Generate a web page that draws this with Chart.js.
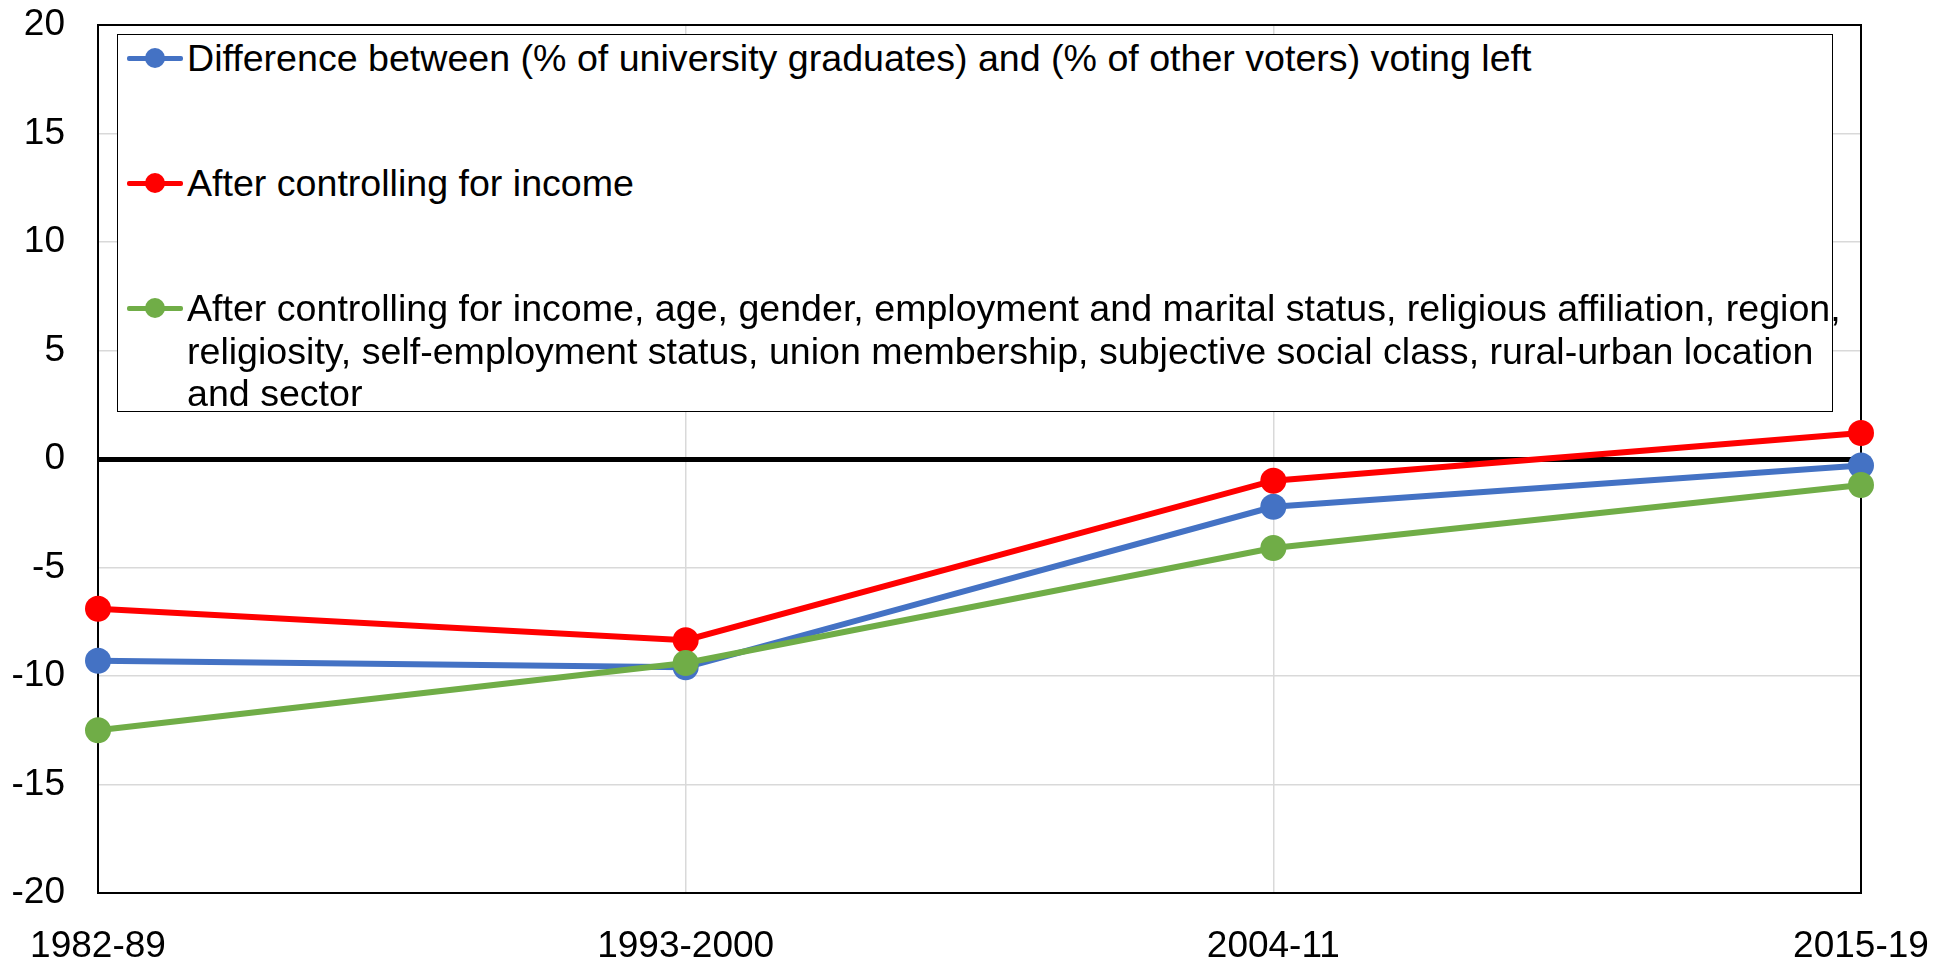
<!DOCTYPE html>
<html>
<head>
<meta charset="utf-8">
<script src="https://cdn.jsdelivr.net/npm/chart.js@4/dist/chart.umd.min.js"></script>
<style>
	body { margin: 0; background: #fff; font-family: 'Liberation Sans', Arial, sans-serif; }
	#wrap { position: relative; width: 1951px; height: 966px; }
	#legend {
		position: absolute; left: 117px; top: 34px; width: 1716px; height: 378px;
		box-sizing: border-box; border: 1.5px solid #000; background: #fff;
	}
	.item { position: absolute; left: 0; width: 100%; }
	.swatch { position: absolute; left: 9px; width: 56px; height: 5px; border-radius: 2px; }
	.dot { position: absolute; left: 27px; width: 20px; height: 20px; border-radius: 50%; }
	.label { position: absolute; left: 69px; font-size: 37.6px; line-height: 42.5px; color: #000; white-space: nowrap; }
</style>
</head>
<body>
<div id="wrap">
	<canvas id="chart" width="1951" height="966"></canvas>
	<div id="legend"></div>
</div>
<script>
const $ = (id) => document.getElementById(id);

const periods = ['1982-89', '1993-2000', '2004-11', '2015-19'];
const graduateGap = [-9.3, -9.6, -2.2, -0.3];
const afterIncome = [-6.9, -8.35, -1.0, 1.2];
const afterAllControls = [-12.5, -9.4, -4.1, -1.2];

const graduateGapLabel = ['Difference between (% of university graduates) and (% of other voters) voting left'];
const afterIncomeLabel = ['After controlling for income'];
const afterAllControlsLabel = [
	'After controlling for income, age, gender, employment and marital status, religious affiliation, region,',
	'religiosity, self-employment status, union membership, subjective social class, rural-urban location',
	'and sector',
];

const yTicks = { min: -20, max: 20, step: 5 };
const legendTops = [2, 127, 252]; // px inside legend box, one per series

const series = [
	{ label: graduateGapLabel, data: graduateGap, color: '#4472C4', order: 2 },
	{ label: afterIncomeLabel, data: afterIncome, color: '#FF0000', order: 1 },
	{ label: afterAllControlsLabel, data: afterAllControls, color: '#70AD47', order: 0 },
];

const font = { family: "'Liberation Sans', Arial, sans-serif", size: 37 };

// black frame round the plot area, drawn over the grid but under the lines
const plotFrame = {
	id: 'plotFrame',
	beforeDatasetsDraw(chart) {
		const { ctx, chartArea: a } = chart;
		ctx.save();
		ctx.strokeStyle = '#000';
		ctx.lineWidth = 2;
		ctx.strokeRect(a.left, a.top, a.right - a.left, a.bottom - a.top);
		ctx.restore();
	},
};

// fixed axis sizes, no extra room for label overflow
const fixSize = (prop, size) => (scale) => {
	scale[prop] = size;
	scale.paddingTop = scale.paddingBottom = scale.paddingLeft = scale.paddingRight = 0;
};

new Chart($('chart').getContext('2d'), {
	type: 'line',
	data: {
		labels: periods,
		datasets: series.map((s) => ({
			label: s.label.join(' '),
			data: s.data,
			order: s.order,
			borderColor: s.color,
			backgroundColor: s.color,
			borderWidth: 6,
			pointRadius: 13,
			pointHoverRadius: 13,
			pointBorderWidth: 0,
			tension: 0,
			clip: false,
		})),
	},
	options: {
		responsive: false,
		animation: false,
		devicePixelRatio: 1,
		layout: { padding: { top: 25, right: 90, left: 0, bottom: 0 } },
		plugins: { legend: { display: false }, tooltip: { enabled: false } },
		events: [],
		scales: {
			x: {
				offset: false,
				grid: { color: '#d9d9d9', lineWidth: 1.5, drawTicks: false },
				border: { display: false },
				ticks: { color: '#000', font, padding: 32, maxRotation: 0 },
				afterFit: fixSize('height', 73),
			},
			y: {
				min: yTicks.min,
				max: yTicks.max,
				grid: {
					color: (c) => (c.tick && c.tick.value === 0 ? '#000' : '#d9d9d9'),
					lineWidth: (c) => (c.tick && c.tick.value === 0 ? 5 : 1.5),
					drawTicks: false,
				},
				border: { display: false },
				ticks: { color: '#000', font, padding: 33, stepSize: yTicks.step },
				afterFit: fixSize('width', 98),
			},
		},
	},
	plugins: [plotFrame],
});

// legend box laid over the plot, as in the original
series.forEach((s, i) => {
	const item = document.createElement('div');
	item.className = 'item';
	item.style.top = legendTops[i] + 'px';
	const mid = 21;
	item.innerHTML = `
		<div class="swatch" style="top:${mid - 2.5}px;background:${s.color}"></div>
		<div class="dot" style="top:${mid - 10}px;background:${s.color}"></div>
		<div class="label">${s.label.join('<br>')}</div>`;
	$('legend').appendChild(item);
});
</script>
</body>
</html>
